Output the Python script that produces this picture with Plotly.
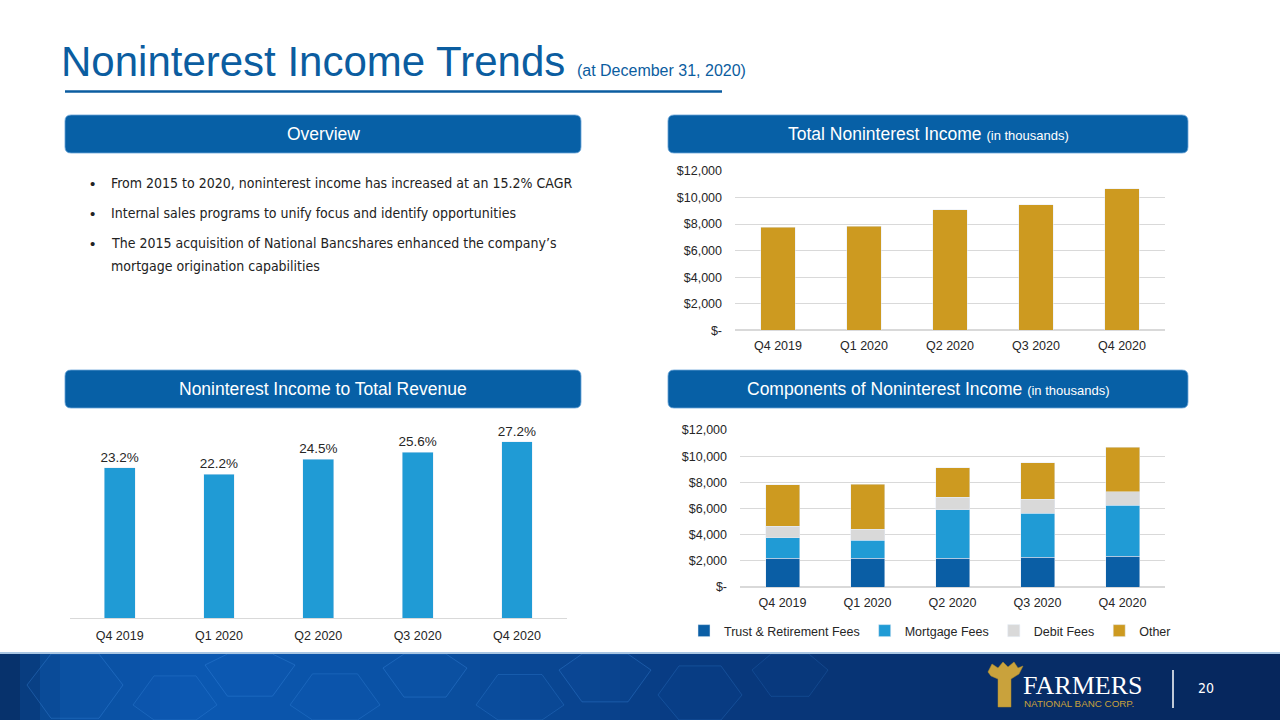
import plotly.graph_objects as go
import numpy as np

# ---------------- data ----------------
quarters = ["Q4 2019", "Q1 2020", "Q2 2020", "Q3 2020", "Q4 2020"]
total_nonint = [7760, 7830, 9085, 9440, 10670]
nonint_to_rev = [0.232, 0.222, 0.245, 0.256, 0.272]
trust_fees = [2190, 2190, 2200, 2290, 2350]
mortgage_fees = [1560, 1380, 3710, 3340, 3890]
debit_fees = [890, 860, 950, 1070, 1050]
other_fees = [3160, 3440, 2240, 2780, 3390]
dollar_tickvals = [0, 2000, 4000, 6000, 8000, 10000, 12000]
dollar_ticktext = ["$-", "$2,000", "$4,000", "$6,000", "$8,000", "$10,000", "$12,000"]
bullets = [
    "From 2015 to 2020, noninterest income has increased at an 15.2% CAGR",
    "Internal sales programs to unify focus and identify opportunities",
    "The 2015 acquisition of National Bancshares enhanced the company\u2019s",
    "mortgage origination capabilities",
]

W, H = 1280, 720
BLUE = "#0760A6"
TITLE_BLUE = "#0B5DA0"
GOLD = "#CD9A20"
LIGHT_BLUE = "#209BD5"
DARK_BLUE = "#0A5EA5"
GRAY = "#D9D9D9"
TXT = "#262626"
FONT = "Liberation Sans, Arial, sans-serif"
NARROW = "Liberation Sans Narrow, DejaVu Sans Condensed, Arial Narrow, sans-serif"


def px(x):
    return x / W


def py(y):
    return 1 - y / H


def P(x, y):
    return f"{px(x):.5f},{py(y):.5f}"


fig = go.Figure()

# Top-right: total noninterest income
fig.add_trace(go.Bar(x=quarters, y=total_nonint, marker_color=GOLD, showlegend=False,
                     width=0.40, xaxis="x", yaxis="y"))
# Bottom-left: noninterest income to total revenue
fig.add_trace(go.Bar(x=quarters, y=nonint_to_rev, marker_color=LIGHT_BLUE, showlegend=False,
                     width=0.31, xaxis="x2", yaxis="y2", texttemplate="%{y:.1%}",
                     textposition="outside", constraintext="none",
                     textfont=dict(size=13.5, color=TXT, family=FONT), cliponaxis=False))
# Bottom-right: components
for name, vals, col in [("Trust & Retirement Fees", trust_fees, DARK_BLUE),
                        ("Mortgage Fees", mortgage_fees, LIGHT_BLUE),
                        ("Debit Fees", debit_fees, GRAY),
                        ("Other", other_fees, GOLD)]:
    fig.add_trace(go.Bar(x=quarters, y=vals, name=name, marker_color=col, width=0.40,
                         xaxis="x3", yaxis="y3"))

tickfont = dict(size=12.5, color=TXT, family=FONT)

fig.update_layout(
    width=W, height=H,
    margin=dict(l=0, r=0, t=0, b=0, autoexpand=False),
    paper_bgcolor="white", plot_bgcolor="rgba(0,0,0,0)",
    barmode="stack",
    showlegend=True,
    legend=dict(orientation="h", x=px(930), y=py(631), xanchor="center", yanchor="middle",
                font=dict(size=12.5, color=TXT, family=FONT), itemwidth=30,
                traceorder="normal", bgcolor="rgba(0,0,0,0)"),
    xaxis=dict(domain=[px(735), px(1165)], anchor="y", tickfont=tickfont, showline=False,
               ticks="", ticklabelstandoff=6, fixedrange=True, automargin=False),
    yaxis=dict(domain=[py(330.3), py(171)], anchor="x", range=[0, 12000],
               tickvals=dollar_tickvals, ticktext=dollar_ticktext, tickfont=tickfont,
               gridcolor=GRAY, gridwidth=1, zeroline=True, zerolinecolor=GRAY,
               showline=False, ticks="", ticklabelstandoff=12, fixedrange=True,
               automargin=False),
    xaxis2=dict(domain=[px(70), px(566.6)], anchor="y2", tickfont=tickfont, showline=True,
                linecolor=GRAY, linewidth=1, ticks="", ticklabelstandoff=6, fixedrange=True,
                automargin=False),
    yaxis2=dict(domain=[py(618.3), py(423.5)], anchor="x2", range=[0, 0.30], visible=False,
                fixedrange=True, automargin=False),
    xaxis3=dict(domain=[px(740), px(1165)], anchor="y3", tickfont=tickfont, ticks="",
                ticklabelstandoff=6, fixedrange=True, automargin=False),
    yaxis3=dict(domain=[py(587), py(430)], anchor="x3", range=[0, 12000],
                tickvals=dollar_tickvals, ticktext=dollar_ticktext, tickfont=tickfont,
                gridcolor=GRAY, gridwidth=1, zeroline=True, zerolinecolor=GRAY, ticks="",
                ticklabelstandoff=12, fixedrange=True, automargin=False),
)

shapes = []
annotations = []


def shp(**kw):
    kw.setdefault("xref", "paper")
    kw.setdefault("yref", "paper")
    shapes.append(kw)


def rounded_rect(x0, y0, x1, y1, r):
    return (f"M{P(x0+r,y0)} L{P(x1-r,y0)} Q{P(x1,y0)} {P(x1,y0+r)} L{P(x1,y1-r)} "
            f"Q{P(x1,y1)} {P(x1-r,y1)} L{P(x0+r,y1)} Q{P(x0,y1)} {P(x0,y1-r)} "
            f"L{P(x0,y0+r)} Q{P(x0,y0)} {P(x0+r,y0)} Z")


def poly(points):
    return "M" + " L".join(P(x, y) for x, y in points) + " Z"


# Header boxes
for (x0, y0, x1, y1) in [(65, 115, 581, 153), (668, 115, 1188, 153),
                         (65, 370, 581, 408), (668, 370, 1188, 408)]:
    shp(type="path", path=rounded_rect(x0, y0, x1, y1, 6), fillcolor=BLUE,
        line=dict(color="#6AA5D8", width=0.8), layer="below")

# Title underline
shp(type="line", x0=px(65), x1=px(722), y0=py(91.5), y1=py(91.5),
    line=dict(color=TITLE_BLUE, width=2.5))

# Footer band (vertical strips forming a gradient)
stops = [(0, (6, 44, 98)), (60, (10, 78, 158)), (200, (11, 88, 178)), (420, (10, 80, 162)),
         (700, (8, 58, 128)), (1000, (7, 46, 106)), (1280, (6, 38, 92))]
n = 64
for i in range(n):
    xa = i * W / n
    xb = min(W, (i + 1) * W / n + 0.8)
    xm = (xa + xb) / 2
    for (s0, c0), (s1, c1) in zip(stops[:-1], stops[1:]):
        if s0 <= xm <= s1:
            t = (xm - s0) / (s1 - s0)
            c = tuple(int(round(c0[k] + (c1[k] - c0[k]) * t)) for k in range(3))
            break
    shp(type="rect", x0=px(xa), x1=px(xb), y0=py(720), y1=py(653), fillcolor=f"rgb{c}",
        line=dict(width=0), layer="below")
shp(type="line", x0=0, x1=1, y0=py(653), y1=py(653), line=dict(color="#A9C6E3", width=2))

# decorative hexagons in the footer
for cx, cy, r, op in [(75, 685, 48, 0.30), (175, 705, 42, 0.25), (250, 665, 45, 0.30),
                      (335, 705, 45, 0.25), (425, 668, 42, 0.30), (520, 705, 44, 0.25),
                      (605, 670, 46, 0.30), (700, 695, 42, 0.22), (790, 670, 38, 0.18)]:
    ang = np.deg2rad(np.arange(0, 360, 60))
    pts = [(cx + r * np.cos(a), cy + r * 0.8 * np.sin(a)) for a in ang]
    pts = [(x, min(max(y, 654), 720)) for x, y in pts]
    shp(type="path", path=poly(pts), line=dict(color=f"rgba(70,150,235,{op})", width=1),
        fillcolor=f"rgba(25,105,200,{op*0.25})", layer="below")

# Logo: wheat sheaf
sheaf = [(988, 672), (992, 664), (998, 668), (1003, 662), (1008, 667), (1014, 662),
         (1018, 668), (1023, 666), (1019, 674), (1011, 679), (1011, 707), (998, 707),
         (998, 679), (991, 676)]
shp(type="path", path=poly(sheaf), fillcolor="#C9A23C", line=dict(color="#B38E2C", width=0.5))
# separator
shp(type="line", x0=px(1173), x1=px(1173), y0=py(670), y1=py(708),
    line=dict(color="white", width=1.5))

fig.update_layout(shapes=shapes)


# ---------- Text ----------
def ann(x, y, text, size, color, family=FONT, xanchor="left", yanchor="middle", **kw):
    annotations.append(dict(x=px(x), y=py(y), xref="paper", yref="paper", text=text,
                            showarrow=False, xanchor=xanchor, yanchor=yanchor,
                            font=dict(size=size, color=color, family=family), **kw))


ann(59, 61, "Noninterest Income Trends <span style='font-size:16px'>(at December 31, 2020)</span>",
    42, TITLE_BLUE)

ann(323, 134, "Overview", 17.5, "white", xanchor="center")
ann(928, 134, "Total Noninterest Income <span style='font-size:13px'>(in thousands)</span>", 17.5,
    "white", xanchor="center")
ann(323, 389, "Noninterest Income to Total Revenue", 17.5, "white", xanchor="center")
ann(928, 389, "Components of Noninterest Income <span style='font-size:13px'>(in thousands)</span>",
    17.5, "white", xanchor="center")

bullet_y = [183, 213, 243, 266]
for i, (txt, yv) in enumerate(zip(bullets, bullet_y)):
    if i < 3:
        ann(88, yv, "\u2022", 15, "#222222")
    ann(109, yv, txt, 14, "#222222", family=NARROW)

# Footer logo text
ann(1021, 685, "FARMERS", 26, "white", family="Liberation Serif, DejaVu Serif, serif")
ann(1022, 703.5, "NATIONAL BANC CORP.", 9.8, "#C9A23C")
ann(1196, 688, "20", 14, "white", family=NARROW)

fig.update_layout(annotations=annotations)

fig.write_html("out.html", config={"displayModeBar": False},
               post_script="document.body.style.margin='0';document.body.style.overflow='hidden';")
